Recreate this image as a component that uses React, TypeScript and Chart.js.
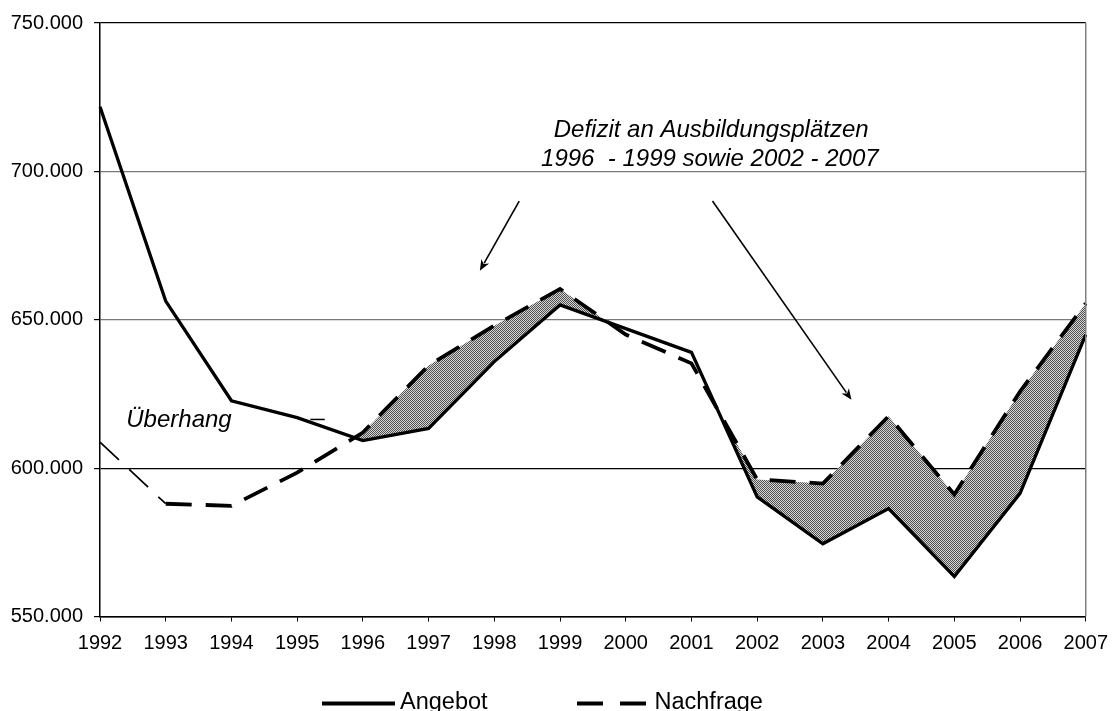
import React, { useEffect, useRef } from 'react';
import { Chart, registerables } from 'chart.js';

Chart.register(...registerables);

const years = ['1992', '1993', '1994', '1995', '1996', '1997', '1998', '1999', '2000', '2001', '2002', '2003', '2004', '2005', '2006', '2007'];
const angebot = [721800, 656300, 622700, 617000, 609300, 613400, 635900, 655000, 647000, 639000, 590300, 574500, 586400, 563500, 591500, 645000];
const nachfrage = [608800, 588000, 587300, 598500, 612000, 634600, 648000, 660400, 645000, 635300, 596200, 594800, 617500, 591100, 625800, 655500];
const yMin = 550000;
const yMax = 750000;
const yStep = 50000;
const seriesLabels = ['Angebot', 'Nachfrage'];
const noteLines = ['Defizit an Ausbildungsplätzen', '1996  - 1999 sowie 2002 - 2007'];
const surplusLabel = 'Überhang';

const FONT = '"Liberation Sans", Arial, sans-serif';

function fmt(v: number): string {
  const k = Math.round(v / 1000);
  return k + '.000';
}

function makePattern(ctx: CanvasRenderingContext2D) {
  const c = document.createElement('canvas');
  c.width = 2;
  c.height = 2;
  const g = c.getContext('2d')!;
  g.fillStyle = '#d6d6d6';
  g.fillRect(0, 0, 2, 2);
  g.fillStyle = '#505050';
  g.fillRect(0, 0, 1, 1);
  g.fillRect(1, 1, 1, 1);
  return ctx.createPattern(c, 'repeat');
}

function arrow(ctx: CanvasRenderingContext2D, x1: number, y1: number, x2: number, y2: number) {
  const ang = Math.atan2(y2 - y1, x2 - x1);
  const len = 11;
  const half = 4.5;
  ctx.save();
  ctx.strokeStyle = '#000';
  ctx.fillStyle = '#000';
  ctx.lineWidth = 1.6;
  ctx.beginPath();
  ctx.moveTo(x1, y1);
  ctx.lineTo(x2 - Math.cos(ang) * len * 0.8, y2 - Math.sin(ang) * len * 0.8);
  ctx.stroke();
  ctx.beginPath();
  ctx.moveTo(x2, y2);
  ctx.lineTo(x2 - Math.cos(ang) * len - Math.sin(ang) * half, y2 - Math.sin(ang) * len + Math.cos(ang) * half);
  ctx.lineTo(x2 - Math.cos(ang) * len * 0.7, y2 - Math.sin(ang) * len * 0.7);
  ctx.lineTo(x2 - Math.cos(ang) * len + Math.sin(ang) * half, y2 - Math.sin(ang) * len - Math.cos(ang) * half);
  ctx.closePath();
  ctx.fill();
  ctx.restore();
}

const decor = {
  id: 'decor',
  afterDraw(chart: any) {
    const ctx: CanvasRenderingContext2D = chart.ctx;
    const { chartArea } = chart;
    const xs = chart.scales.x;
    const ys = chart.scales.y;
    const px = (i: number) => xs.getPixelForValue(i);
    const py = (v: number) => ys.getPixelForValue(v);

    ctx.save();
    // right border
    ctx.strokeStyle = '#808080';
    ctx.lineWidth = 1.5;
    ctx.beginPath();
    ctx.moveTo(chartArea.right, chartArea.top);
    ctx.lineTo(chartArea.right, chartArea.bottom);
    ctx.stroke();

    // annotation text
    ctx.fillStyle = '#000';
    ctx.font = 'italic 24px ' + FONT;
    ctx.textBaseline = 'alphabetic';
    ctx.textAlign = 'center';
    ctx.fillText(noteLines[0], px(9.3), py(711.5e3));
    ctx.fillText(noteLines[1], px(9.28), py(701.8e3));

    ctx.textAlign = 'left';
    ctx.fillText(surplusLabel, px(0.4), py(614e3));

    // small dash
    ctx.strokeStyle = '#000';
    ctx.lineWidth = 1.5;
    ctx.beginPath();
    ctx.moveTo(px(3.2), py(616.4e3));
    ctx.lineTo(px(3.42), py(616.4e3));
    ctx.stroke();

    arrow(ctx, px(6.379), py(690e3), px(5.78), py(666.5e3));
    arrow(ctx, px(9.32), py(690e3), px(11.435), py(623e3));

    // legend
    const ly = 703.5;
    ctx.font = '23.5px ' + FONT;
    ctx.textBaseline = 'alphabetic';
    ctx.lineWidth = 4;
    ctx.lineCap = 'butt';
    ctx.setLineDash([]);
    ctx.beginPath();
    ctx.moveTo(322, ly);
    ctx.lineTo(395, ly);
    ctx.stroke();
    ctx.fillText(seriesLabels[0], 400, 708.5);
    ctx.setLineDash([26, 17]);
    ctx.beginPath();
    ctx.moveTo(577, ly);
    ctx.lineTo(646, ly);
    ctx.stroke();
    ctx.setLineDash([]);
    ctx.fillText(seriesLabels[1], 654.5, 708.5);
    ctx.restore();
  },
};

export default function App() {
  const ref = useRef<HTMLCanvasElement | null>(null);

  useEffect(() => {
    const canvas = ref.current!;
    const ctx = canvas.getContext('2d')!;
    const pattern = makePattern(ctx);
    const chart = new Chart(canvas, {
      type: 'line',
      data: {
        labels: years,
        datasets: [
          {
            label: seriesLabels[0],
            data: angebot,
            borderColor: '#000',
            borderWidth: 3.3,
            pointRadius: 0,
            tension: 0,
            fill: false,
            borderJoinStyle: 'miter',
          },
          {
            label: seriesLabels[1],
            data: nachfrage,
            borderColor: '#000',
            borderWidth: 3.8,
            borderDash: [26, 14],
            pointRadius: 0,
            tension: 0,
            borderJoinStyle: 'miter',
            fill: { target: 0, above: pattern as any, below: 'rgba(0,0,0,0)' },
            segment: {
              borderWidth: (c: any) => (c.p0DataIndex === 0 ? 1.7 : 3.8),
            },
          } as any,
        ],
      },
      options: {
        animation: false,
        responsive: false,
        layout: { padding: { top: 21.5, right: 23.4, left: 0, bottom: 0 } },
        plugins: {
          legend: { display: false },
          tooltip: { enabled: false },
          title: { display: false },
        },
        scales: {
          x: {
            grid: { drawOnChartArea: false, drawTicks: true, tickLength: 5, color: '#000', tickColor: '#000' },
            border: { color: '#000', width: 1.5 },
            ticks: { color: '#000', font: { family: FONT, size: 20 }, padding: 10, maxRotation: 0, autoSkip: false },
            afterFit: (s: any) => {
              s.height = 94.5;
            },
          },
          y: {
            min: yMin,
            max: yMax,
            grid: {
              color: (c: any) => {
                const v = c.tick && c.tick.value;
                return v === 650000 || v === 700000 ? '#7a7a7a' : '#000';
              },
              lineWidth: 1.2,
              tickLength: 6,
              tickColor: '#000',
            },
            border: { color: '#000', width: 1.5 },
            ticks: {
              stepSize: yStep,
              color: '#000',
              font: { family: FONT, size: 20 },
              padding: 11,
              callback: (v: any) => fmt(Number(v)),
            },
            afterFit: (s: any) => {
              s.width = 100;
            },
          },
        },
      },
      plugins: [decor],
    });
    return () => chart.destroy();
  }, []);

  return (
    <div style={{ position: 'absolute', left: 0, top: 0, width: 1118, height: 711, background: '#fff' }}>
      <canvas ref={ref} width={1118} height={711} style={{ width: 1118, height: 711, display: 'block' }} />
    </div>
  );
}
